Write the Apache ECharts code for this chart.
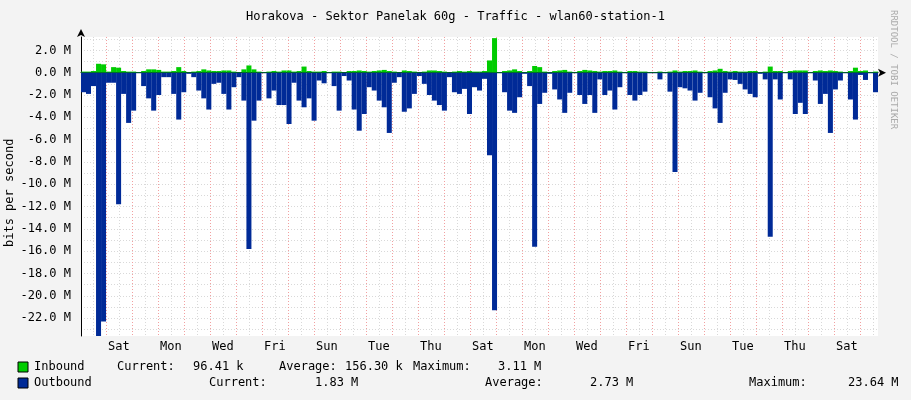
<!DOCTYPE html>
<html><head><meta charset="utf-8">
<script src="https://cdn.jsdelivr.net/npm/echarts@6/dist/echarts.min.js"></script>
<style>html,body{margin:0;padding:0;background:#f3f3f3}#c{width:911px;height:400px}</style>
</head><body><div id="c"></div>
<script>
// Outbound (M bits/s, drawn downward), one value per ~3.7h slot
const outbound = [1.75,1.9,1.2,23.6,22.3,0.9,0.9,11.8,1.9,4.5,3.4,0.05,1.2,2.3,3.4,2.0,0.4,0.4,1.9,4.2,
1.75,0.1,0.4,1.6,2.3,3.3,1.0,0.9,1.9,3.3,1.3,0.4,2.5,15.8,4.3,2.5,0.05,2.3,1.6,2.9,
2.9,4.6,0.9,2.5,3.1,2.3,4.3,0.7,0.95,0.05,1.2,3.4,0.3,0.7,3.3,5.2,3.7,1.3,1.6,2.5,
3.1,5.4,0.9,0.4,3.5,3.2,1.9,0.3,1.0,2.0,2.5,2.9,3.4,0.4,1.75,1.9,1.45,3.7,1.3,1.6,
0.55,7.4,21.3,0.05,1.75,3.4,3.6,2.2,0.1,1.2,15.6,2.8,1.8,0.1,1.5,2.4,3.6,1.8,0.05,2.0,
2.8,2.0,3.6,0.6,2.0,1.6,3.3,1.3,0.05,2.0,2.5,2.0,1.7,0.05,0.05,0.6,0.05,1.7,8.9,1.3,
1.4,1.6,2.5,1.8,0.05,2.2,3.2,4.5,1.8,0.6,0.65,1.0,1.5,1.9,2.2,0.1,0.6,14.7,0.6,2.4,
0.05,0.6,3.7,2.7,3.7,0.05,0.7,2.8,1.9,5.4,1.5,0.7,0.05,2.4,4.2,0.2,0.65,0.05,1.75];
// Inbound (M bits/s)
const inbound = [0.1,0.1,0.15,0.8,0.75,0.1,0.5,0.45,0.15,0.1,0.1,0.05,0.15,0.3,0.3,0.25,0.1,0.1,0.15,0.5,
0.15,0.05,0.1,0.15,0.3,0.2,0.15,0.15,0.2,0.2,0.1,0.05,0.3,0.65,0.3,0.1,0.05,0.1,0.15,0.1,
0.2,0.2,0.1,0.15,0.55,0.15,0.1,0.1,0.15,0.05,0.1,0.1,0.05,0.15,0.15,0.2,0.15,0.1,0.15,0.2,
0.25,0.15,0.1,0.05,0.2,0.15,0.1,0.05,0.1,0.2,0.2,0.15,0.1,0.05,0.1,0.15,0.1,0.15,0.1,0.1,
0.15,1.1,3.1,0.05,0.15,0.2,0.3,0.15,0.05,0.15,0.6,0.5,0.1,0.05,0.15,0.2,0.25,0.1,0.05,0.15,
0.25,0.2,0.15,0.1,0.15,0.15,0.2,0.1,0.05,0.15,0.15,0.1,0.1,0.05,0.05,0.1,0.05,0.1,0.2,0.1,
0.15,0.15,0.2,0.1,0.05,0.15,0.2,0.35,0.15,0.1,0.15,0.1,0.1,0.15,0.15,0.05,0.1,0.55,0.15,0.15,
0.05,0.15,0.2,0.2,0.2,0.05,0.15,0.2,0.15,0.2,0.15,0.1,0.05,0.15,0.45,0.15,0.2,0.05,0.1];
const dayLabels = ['Sat','Mon','Wed','Fri','Sun','Tue','Thu','Sat','Mon','Wed','Fri','Sun','Tue','Thu','Sat'];
const yTicks = [2,0,-2,-4,-6,-8,-10,-12,-14,-16,-18,-20,-22];

const HOURS = 735.7;
const labelPos = dayLabels.map((d,i)=>35+48*i);
const midnights = []; for (let h=23; h<HOURS; h+=24) midnights.push(h);
const halfDays = []; for (let h=11; h<HOURS; h+=12) halfDays.push(h);
const minorY = []; for (let v=3; v>=-23; v--) minorY.push(v);
const mono = 'DejaVu Sans Mono';
const cats = outbound.map((_,i)=>i);
const txt = (x,y,t)=>({type:'text',x:x,y:y,style:{text:t,font:'12px '+mono,fill:'#000'}});

const chart = echarts.init(document.getElementById('c'));
chart.setOption({
  backgroundColor:'#f3f3f3',
  animation:false,
  title:{text:'Horakova - Sektor Panelak 60g - Traffic - wlan60-station-1',left:'center',top:6,
    textStyle:{fontFamily:mono,fontSize:12,fontWeight:'normal',color:'#000'}},
  grid:{left:81,right:33,top:37,bottom:64,backgroundColor:'#fff',show:true,borderWidth:0,outerBoundsMode:'none',containLabel:false},
  xAxis:[
    {type:'category',data:cats,show:false,boundaryGap:true},
    {type:'value',min:0,max:HOURS,position:'bottom',
      axisLine:{show:true,lineStyle:{color:'#000'},symbol:['none','arrow'],symbolSize:[6,8],symbolOffset:[0,8]},
      axisTick:{show:false},
      axisLabel:{customValues:labelPos,formatter:(v)=>dayLabels[labelPos.indexOf(Math.round(v))]||'',
        fontFamily:mono,fontSize:12,color:'#000',margin:5},
      splitLine:{show:false}},
    {type:'value',min:0,max:HOURS,show:true,axisLine:{show:false},axisLabel:{show:false},
      axisTick:{show:false,customValues:halfDays},
      splitLine:{show:true,lineStyle:{color:'#d9d9d9',type:[1,2]}}},
    {type:'value',min:0,max:HOURS,show:true,axisLine:{show:false},axisLabel:{show:false},
      axisTick:{show:false,customValues:midnights},
      splitLine:{show:true,lineStyle:{color:'#f2a0a0',type:[1,2]}}}
  ],
  yAxis:[
    {type:'value',min:-23.6,max:3.2,
      axisLine:{show:true,lineStyle:{color:'#000'},symbol:['none','arrow'],symbolSize:[6,8],symbolOffset:[0,8]},
      axisTick:{show:false,customValues:yTicks},
      axisLabel:{customValues:yTicks,formatter:v=>v.toFixed(1)+' M',fontFamily:mono,fontSize:12,color:'#000',margin:10},
      splitLine:{show:true,lineStyle:{color:'#f2a0a0',type:[1,2]}}},
    {type:'value',min:-23.6,max:3.2,show:true,axisLine:{show:false},axisLabel:{show:false},
      axisTick:{show:false,customValues:minorY},
      splitLine:{show:true,lineStyle:{color:'#d9d9d9',type:[1,2]}}}
  ],
  series:[
    {type:'bar',data:inbound,xAxisIndex:0,yAxisIndex:0,barCategoryGap:'0%',barGap:'-100%',
      itemStyle:{color:'#00cc00',borderWidth:0},z:3},
    {type:'bar',data:outbound.map(v=>-v),xAxisIndex:0,yAxisIndex:0,barCategoryGap:'0%',barGap:'-100%',
      itemStyle:{color:'#002a97',borderWidth:0},z:4}
  ],
  graphic:[
    {type:'text',x:4,y:247,rotation:Math.PI/2,style:{text:'bits per second',font:'12px '+mono,fill:'#000'}},
    {type:'text',x:898,y:10,rotation:-Math.PI/2,style:{text:'RRDTOOL / TOBI OETIKER',font:'9px '+mono,fill:'#aaa'}},
    {type:'rect',shape:{x:18,y:362,width:10,height:10},style:{fill:'#00cc00',stroke:'#000',lineWidth:1}},
    {type:'rect',shape:{x:18,y:378,width:10,height:10},style:{fill:'#002a97',stroke:'#000',lineWidth:1}},
    txt(34,361,'Inbound'), txt(117,361,'Current:'), txt(193,361,'96.41 k'),
    txt(279,361,'Average:'), txt(345,361,'156.30 k'), txt(413,361,'Maximum:'), txt(498,361,'3.11 M'),
    txt(34,377,'Outbound'),
    txt(209,377,'Current:'), txt(315,377,'1.83 M'),
    txt(485,377,'Average:'), txt(590,377,'2.73 M'),
    txt(749,377,'Maximum:'), txt(848,377,'23.64 M')
  ]
});
</script></body></html>
